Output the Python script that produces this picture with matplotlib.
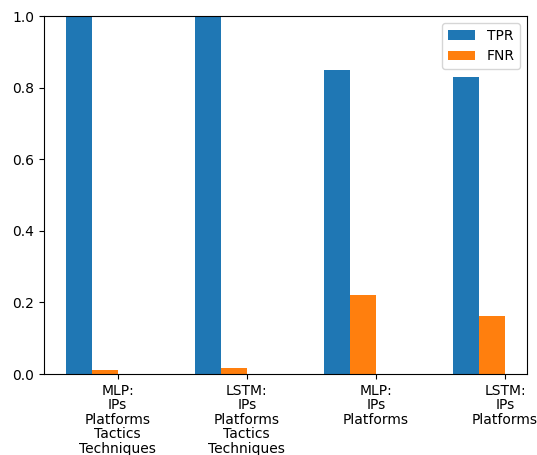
import numpy as np
import matplotlib
matplotlib.use("Agg")
import matplotlib.pyplot as plt

models = ["MLP:\nIPs\nPlatforms\nTactics\nTechniques",
          "LSTM:\nIPs\nPlatforms\nTactics\nTechniques",
          "MLP:\nIPs\nPlatforms",
          "LSTM:\nIPs\nPlatforms"]
tpr = [1.0, 1.0, 0.85, 0.83]
fnr = [0.011, 0.017, 0.22, 0.163]

fig = plt.figure(figsize=(5.37, 4.55), dpi=100)
ax = fig.add_axes([0.0819, 0.178, 0.8995, 0.7868])
x = np.arange(len(models))
w = 0.2
ax.bar(x, tpr, w, label="TPR", color="#1f77b4")
ax.bar(x + w, fnr, w, label="FNR", color="#ff7f0e")
ax.set_xticks(x + 1.5 * w)
ax.set_xticklabels(models, linespacing=1.05)
ax.set_ylim(0, 1.0)
ax.legend(loc="upper right")
fig.savefig("out.png", dpi=100)
